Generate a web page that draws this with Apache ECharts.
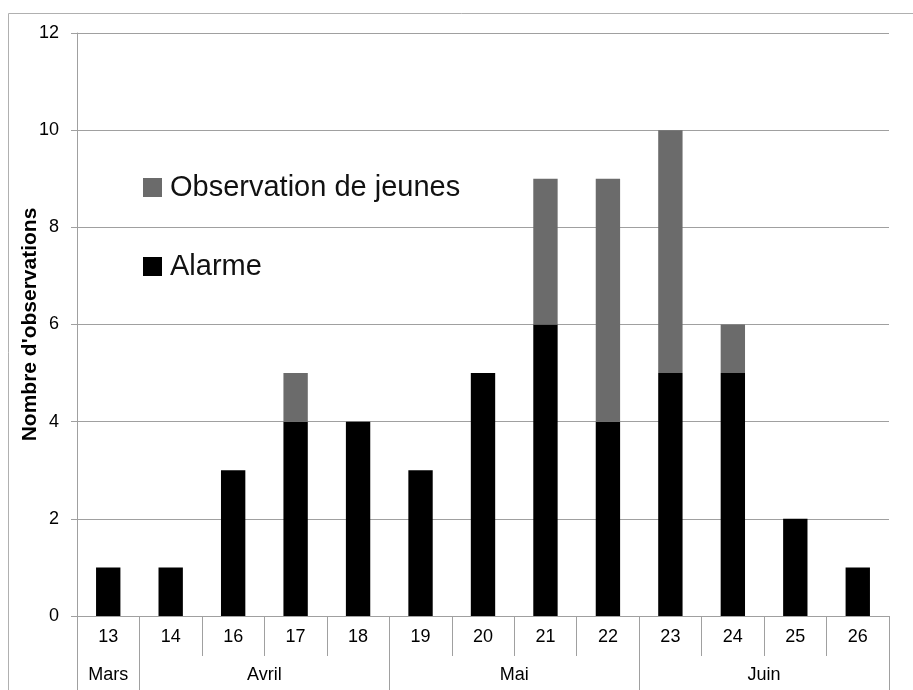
<!DOCTYPE html>
<html>
<head>
<meta charset="utf-8">
<script src="https://cdn.jsdelivr.net/npm/echarts@6/dist/echarts.min.js"></script>
<style>html,body{margin:0;padding:0;background:#fff;}#c{width:913px;height:690px;}</style>
</head>
<body>
<div id="c"></div>
<script>
const categories = ['13','14','16','17','18','19','20','21','22','23','24','25','26'];
const alarme = [1,1,3,4,4,3,5,6,4,5,5,2,1];
const jeunes = [0,0,0,1,0,0,0,3,5,5,1,0,0];
const months = ['Mars','Avril','Mai','Juin'];
const monthSpans = [1,4,4,4];
const yTicks = [0,2,4,6,8,10,12];

const bounds = [0];
monthSpans.forEach(s => bounds.push(bounds[bounds.length-1] + s));
const centers = months.map((m,i) => (bounds[i] + bounds[i+1]) / 2);

const gray = '#a0a0a0';
const font = 'Liberation Sans, Arial, sans-serif';

const chart = echarts.init(document.getElementById('c'));
chart.setOption({
  animation: false,
  graphic: [{
    type: 'rect', shape: {x: 8.5, y: 13.5, width: 1000, height: 1000},
    style: {fill: 'none', stroke: '#b0b0b0', lineWidth: 1}, z: -10
  }],
  grid: {left: 77, right: 24, top: 33, bottom: 74, containLabel: false, outerBoundsMode: 'none'},
  legend: {
    orient: 'vertical', left: 143, top: 173, padding: 0,
    itemWidth: 19, itemHeight: 19, itemGap: 50, icon: 'rect',
    data: ['Observation de jeunes', 'Alarme'],
    textStyle: {fontFamily: font, fontSize: 29, color: '#111', lineHeight: 28, padding: [0,0,0,3]}
  },
  xAxis: [{
    type: 'category', data: categories, position: 'bottom',
    axisLine: {show: true, lineStyle: {color: gray}},
    axisTick: {show: true, interval: 0, alignWithLabel: false, length: 40, lineStyle: {color: gray}},
    axisLabel: {interval: 0, margin: 12, fontFamily: font, fontSize: 18, color: '#000'},
    splitLine: {show: false}
  }, {
    type: 'value', min: 0, max: bounds[bounds.length-1], position: 'bottom', offset: 40,
    axisLine: {show: false},
    axisTick: {show: true, customValues: bounds, length: 40, lineStyle: {color: gray}},
    axisLabel: {
      customValues: centers, margin: 10, fontFamily: font, fontSize: 18, color: '#000',
      formatter: v => { const i = centers.indexOf(v); return i >= 0 ? months[i] : ''; }
    },
    splitLine: {show: false}
  }],
  yAxis: {
    type: 'value', min: 0, max: 12, interval: 2,
    name: "Nombre d'observations", nameLocation: 'middle', nameGap: 36, nameRotate: 90,
    nameMoveOverlap: false,
    nameTextStyle: {fontFamily: font, fontSize: 21, fontWeight: 'bold', color: '#000'},
    axisLine: {show: true, lineStyle: {color: gray}},
    axisTick: {show: true, length: 6, lineStyle: {color: gray}},
    axisLabel: {margin: 18, fontFamily: font, fontSize: 18, color: '#000',
      formatter: v => yTicks.indexOf(v) >= 0 ? String(v) : ''},
    splitLine: {show: true, lineStyle: {color: gray}}
  },
  series: [{
    name: 'Alarme', type: 'bar', stack: 'total', data: alarme,
    barCategoryGap: '61%', itemStyle: {color: '#000'}, xAxisIndex: 0
  }, {
    name: 'Observation de jeunes', type: 'bar', stack: 'total', data: jeunes,
    barCategoryGap: '61%', itemStyle: {color: '#6b6b6b'}, xAxisIndex: 0
  }]
});
</script>
</body>
</html>
